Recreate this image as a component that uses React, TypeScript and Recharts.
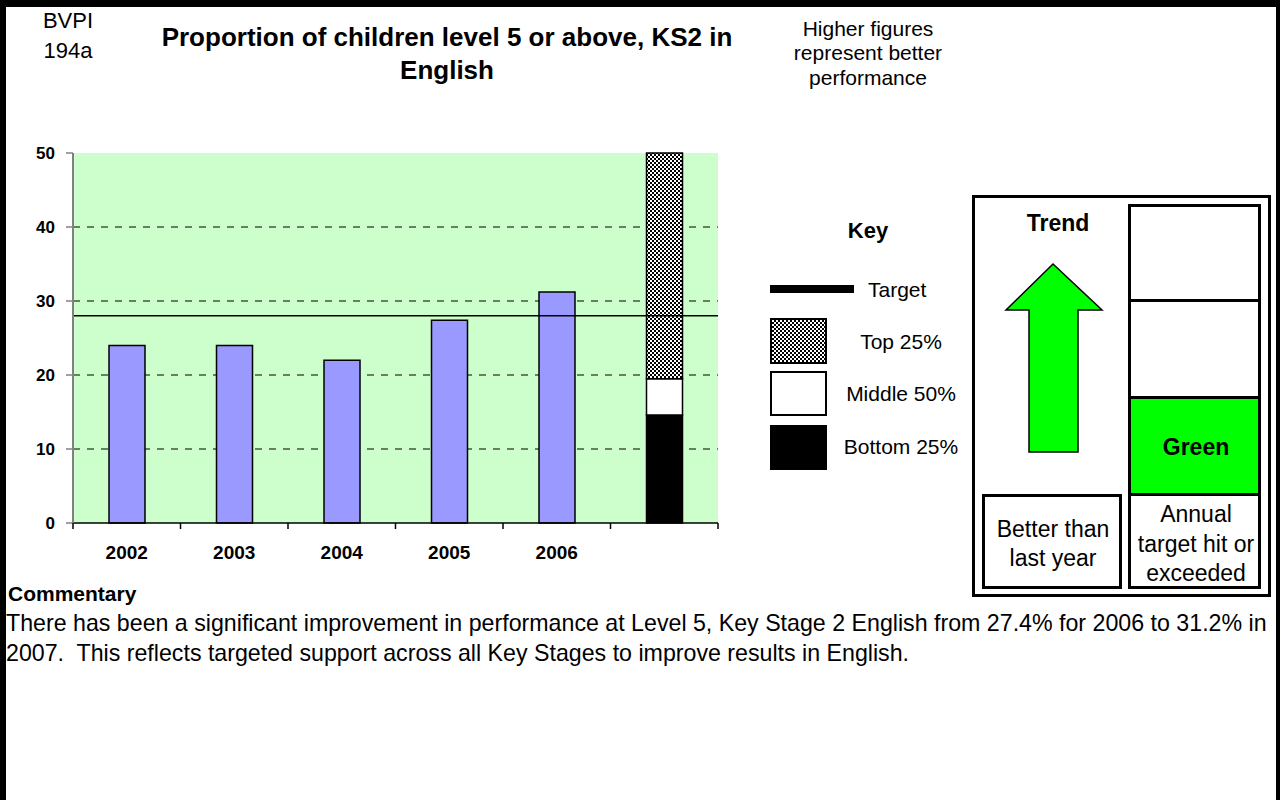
import React from "react";
import {
  Bar,
  BarChart,
  CartesianGrid,
  ReferenceLine,
  XAxis,
  YAxis,
} from "recharts";

const years = ["2002", "2003", "2004", "2005", "2006", ""];
const performance = [24, 24, 22, 27.4, 31.2, null];
const bottomQuartile = [null, null, null, null, null, 14.6];
const middleHalf = [null, null, null, null, null, 4.9];
const topQuartile = [null, null, null, null, null, 30.5];
const target = 28;
const yTicks = [0, 10, 20, 30, 40, 50];

const FONT = "'Liberation Sans', Arial, sans-serif";

const chartData = years.map((year, i) => ({
  year,
  performance: performance[i],
  bottom: bottomQuartile[i],
  middle: middleHalf[i],
  top: topQuartile[i],
}));

// year label plus a tick mark on the category boundaries (Excel style)
function YearTick(props: any) {
  const { x, y, payload, index, visibleTicksCount } = props;
  const half = payload?.offset ?? 0;
  const isLast = index === (visibleTicksCount ?? years.length) - 1;
  return (
    <g>
      <line x1={x - half} x2={x - half} y1={y} y2={y + 6} stroke="#000" strokeWidth={1.5} />
      {isLast ? (
        <line x1={x + half} x2={x + half} y1={y} y2={y + 6} stroke="#000" strokeWidth={1.5} />
      ) : null}
      <text
        x={x}
        y={y + 36}
        textAnchor="middle"
        fontSize={19}
        fontWeight={700}
        fontFamily={FONT}
        fill="#000"
      >
        {payload.value}
      </text>
    </g>
  );
}

function Txt({
  cx,
  cy,
  w = 200,
  size = 20,
  bold = false,
  align = "center",
  lh = 30,
  children,
}: {
  cx: number;
  cy: number;
  w?: number;
  size?: number;
  bold?: boolean;
  align?: "center" | "left";
  lh?: number;
  children: React.ReactNode;
}) {
  const left = align === "center" ? cx - w / 2 : cx;
  return (
    <div
      style={{
        position: "absolute",
        left,
        top: cy - lh / 2,
        width: w,
        lineHeight: `${lh}px`,
        fontSize: size,
        fontWeight: bold ? 700 : 400,
        textAlign: align,
        whiteSpace: "nowrap",
      }}
    >
      {children}
    </div>
  );
}

function Box({
  left,
  top,
  width,
  height,
  bg = "#fff",
  border = 3,
}: {
  left: number;
  top: number;
  width: number;
  height: number;
  bg?: string;
  border?: number;
}) {
  return (
    <div
      style={{
        position: "absolute",
        left,
        top,
        width,
        height,
        boxSizing: "border-box",
        border: `${border}px solid #000`,
        background: bg,
      }}
    />
  );
}

const checker =
  "repeating-conic-gradient(#000 0 25%, #fff 0 50%) 0 0 / 4px 4px";

export default function App() {
  return (
    <div
      style={{
        position: "relative",
        width: 1280,
        height: 800,
        fontFamily: FONT,
        color: "#000",
        background: "#fff",
        overflow: "hidden",
      }}
    >
      <style>{`body{margin:0}`}</style>
      <div
        style={{
          position: "absolute",
          left: 0,
          top: 0,
          width: 1280,
          height: 800,
          boxSizing: "border-box",
          borderTop: "7px solid #000",
          borderLeft: "6px solid #000",
          borderRight: "4px solid #000",
        }}
      />

      <div style={{ position: "absolute", left: 0, top: 0 }}>
        <BarChart
          width={740}
          height={600}
          data={chartData}
          margin={{ top: 153, right: 22, left: 13, bottom: 29 }}
          barSize={36}
        >
          <defs>
            <pattern
              id="checker"
              width="4"
              height="4"
              patternUnits="userSpaceOnUse"
            >
              <rect width="4" height="4" fill="#fff" />
              <rect width="2" height="2" fill="#000" />
              <rect x="2" y="2" width="2" height="2" fill="#000" />
            </pattern>
          </defs>
          <CartesianGrid
            vertical={false}
            horizontalValues={[10, 20, 30, 40]}
            stroke="#000"
            strokeDasharray="7 7"
            fill="#CCFFCC"
            fillOpacity={1}
          />
          <XAxis
            dataKey="year"
            height={48}
            axisLine={{ stroke: "#000", strokeWidth: 1.5 }}
            tickLine={false}
            tickSize={0}
            tickMargin={0}
            interval={0}
            tick={<YearTick />}
          />
          <YAxis
            width={60}
            domain={[0, 50]}
            ticks={yTicks}
            interval={0}
            tickSize={7}
            tickMargin={11}
            axisLine={{ stroke: "#808080", strokeWidth: 2 }}
            tickLine={{ stroke: "#808080", strokeWidth: 1.5 }}
            tick={{ fontSize: 17, fontWeight: 700, fill: "#000", fontFamily: FONT }}
          />
          <Bar
            dataKey="performance"
            stackId="s"
            fill="#9999FF"
            stroke="#000"
            strokeWidth={1.5}
            isAnimationActive={false}
          />
          <Bar
            dataKey="bottom"
            stackId="s"
            fill="#000"
            stroke="#000"
            strokeWidth={1.5}
            isAnimationActive={false}
          />
          <Bar
            dataKey="middle"
            stackId="s"
            fill="#fff"
            stroke="#000"
            strokeWidth={1.5}
            isAnimationActive={false}
          />
          <Bar
            dataKey="top"
            stackId="s"
            fill="url(#checker)"
            stroke="#000"
            strokeWidth={1.5}
            isAnimationActive={false}
          />
          <ReferenceLine y={target} stroke="#000" strokeWidth={1.5} />
        </BarChart>
      </div>

      {/* header */}
      <Txt cx={68} cy={21} w={80} size={22}>BVPI</Txt>
      <Txt cx={68} cy={51} w={80} size={22}>194a</Txt>
      <Txt cx={447} cy={37} w={700} size={26} bold>
        Proportion of children level 5 or above, KS2 in
      </Txt>
      <Txt cx={447} cy={70} w={700} size={26} bold>English</Txt>
      <Txt cx={868} cy={29} w={240} size={21} lh={24}>Higher figures</Txt>
      <Txt cx={868} cy={53} w={240} size={21} lh={24}>represent better</Txt>
      <Txt cx={868} cy={78} w={240} size={21} lh={24}>performance</Txt>

      {/* key */}
      <Txt cx={868} cy={231} w={120} size={22} bold>Key</Txt>
      <div
        style={{
          position: "absolute",
          left: 770,
          top: 285,
          width: 84,
          height: 8,
          background: "#000",
        }}
      />
      <Txt cx={868} cy={290} align="left" w={120} size={21}>Target</Txt>
      <div
        style={{
          position: "absolute",
          left: 770,
          top: 318,
          width: 57,
          height: 46,
          boxSizing: "border-box",
          border: "2px solid #000",
          background: checker,
        }}
      />
      <Box left={770} top={371} width={57} height={45} border={2} />
      <Box left={770} top={425} width={57} height={45} bg="#000" border={2} />
      <Txt cx={901} cy={342} w={150} size={21}>Top 25%</Txt>
      <Txt cx={901} cy={394} w={150} size={21}>Middle 50%</Txt>
      <Txt cx={901} cy={447} w={150} size={21}>Bottom 25%</Txt>

      {/* status panel */}
      <Box left={972} top={195} width={299} height={402} />
      <Box left={1128} top={204} width={133} height={98} />
      <Box left={1128} top={299} width={133} height={100} />
      <Box left={1128} top={396} width={133} height={100} bg="#00FF00" />
      <Box left={1128} top={493} width={133} height={96} />
      <Box left={982} top={494} width={140} height={95} />
      <Txt cx={1058} cy={223} w={120} size={23} bold>Trend</Txt>
      <svg
        style={{ position: "absolute", left: 1000, top: 258 }}
        width={110}
        height={200}
      >
        <polygon
          points="53,6 6,52 29,52 29,194 78,194 78,52 102,52"
          fill="#00FF00"
          stroke="#000"
          strokeWidth={1.5}
        />
      </svg>
      <Txt cx={1196} cy={447} w={120} size={23} bold>Green</Txt>
      <Txt cx={1053} cy={529} w={136} size={23}>Better than</Txt>
      <Txt cx={1053} cy={558} w={136} size={23}>last year</Txt>
      <Txt cx={1196} cy={514} w={130} size={23}>Annual</Txt>
      <Txt cx={1196} cy={544} w={130} size={23}>target hit or</Txt>
      <Txt cx={1196} cy={573} w={130} size={23}>exceeded</Txt>

      {/* commentary */}
      <Txt cx={8} cy={594} align="left" w={300} size={21} bold>Commentary</Txt>
      <Txt cx={6} cy={623} align="left" w={1270} size={23.2}>
        There has been a significant improvement in performance at Level 5, Key Stage 2 English from 27.4% for 2006 to 31.2% in
      </Txt>
      <Txt cx={6} cy={653} align="left" w={1270} size={23.2}>
        2007.&nbsp; This reflects targeted support across all Key Stages to improve results in English.
      </Txt>
    </div>
  );
}
